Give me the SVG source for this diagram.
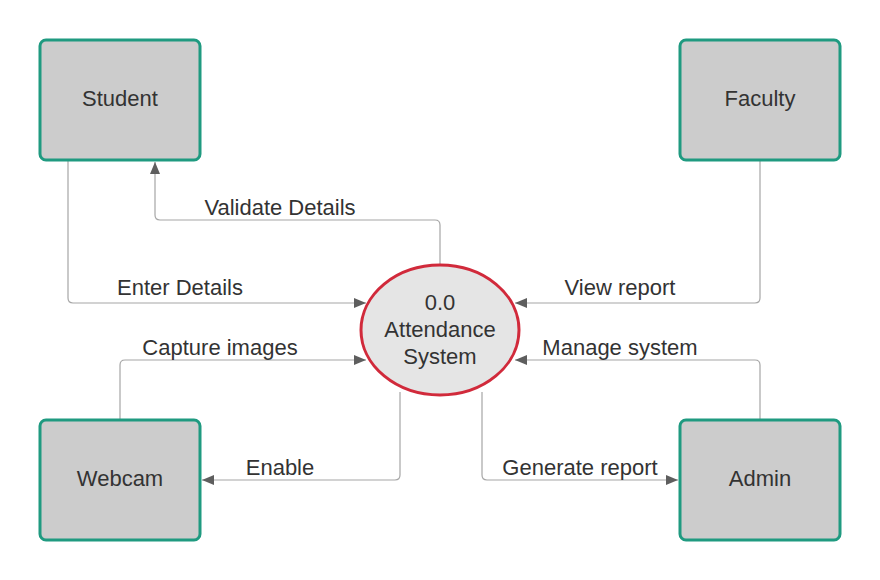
<svg xmlns="http://www.w3.org/2000/svg" width="880" height="580" viewBox="0 0 880 580">
<defs>
<style>
.box{fill:#cccccc;stroke:#1f9a80;stroke-width:3}
.proc{fill:#e5e5e5;stroke:#d12a3b;stroke-width:3}
.t{font-family:"Liberation Sans",Arial,sans-serif;font-size:22px;fill:#333333;text-anchor:middle}
.c{fill:none;stroke:#a6a6a6;stroke-width:1.2;marker-end:url(#ah)}
</style>
<marker id="ah" viewBox="0 0 12 10" refX="12" refY="5" markerWidth="12" markerHeight="10" markerUnits="userSpaceOnUse" orient="auto">
<path d="M0,0 L12,5 L0,10 Z" fill="#5e5e5e"/>
</marker>
</defs>
<rect width="880" height="580" fill="#ffffff"/>
<g id="connectors">
<path class="c" d="M68,161 V298 Q68,303 73,303 H366"/>
<path class="c" d="M440,265 V225 Q440,220 435,220 H160 Q155,220 155,215 V162"/>
<path class="c" d="M120,419 V365 Q120,360 125,360 H366"/>
<path class="c" d="M400,392 V475 Q400,480 395,480 H202"/>
<path class="c" d="M482,392 V475 Q482,480 487,480 H678"/>
<path class="c" d="M760,161 V298 Q760,303 755,303 H515"/>
<path class="c" d="M760,419 V365 Q760,360 755,360 H515"/>
<text class="t" x="180" y="295">Enter Details</text>
<text class="t" x="280" y="215">Validate Details</text>
<text class="t" x="220" y="355">Capture images</text>
<text class="t" x="280" y="475">Enable</text>
<text class="t" x="580" y="475">Generate report</text>
<text class="t" x="620" y="295">View report</text>
<text class="t" x="620" y="355">Manage system</text>
</g>
<g id="student"><rect class="box" x="40" y="40" width="160" height="120" rx="6"/><text class="t" x="120" y="106">Student</text></g>
<g id="faculty"><rect class="box" x="680" y="40" width="160" height="120" rx="6"/><text class="t" x="760" y="106">Faculty</text></g>
<g id="webcam"><rect class="box" x="40" y="420" width="160" height="120" rx="6"/><text class="t" x="120" y="486">Webcam</text></g>
<g id="admin"><rect class="box" x="680" y="420" width="160" height="120" rx="6"/><text class="t" x="760" y="486">Admin</text></g>
<g id="attendance-system"><ellipse class="proc" cx="440" cy="330" rx="79" ry="65"/>
<text class="t" x="440" y="310">0.0</text><text class="t" x="440" y="337">Attendance</text><text class="t" x="440" y="364">System</text></g>
</svg>
